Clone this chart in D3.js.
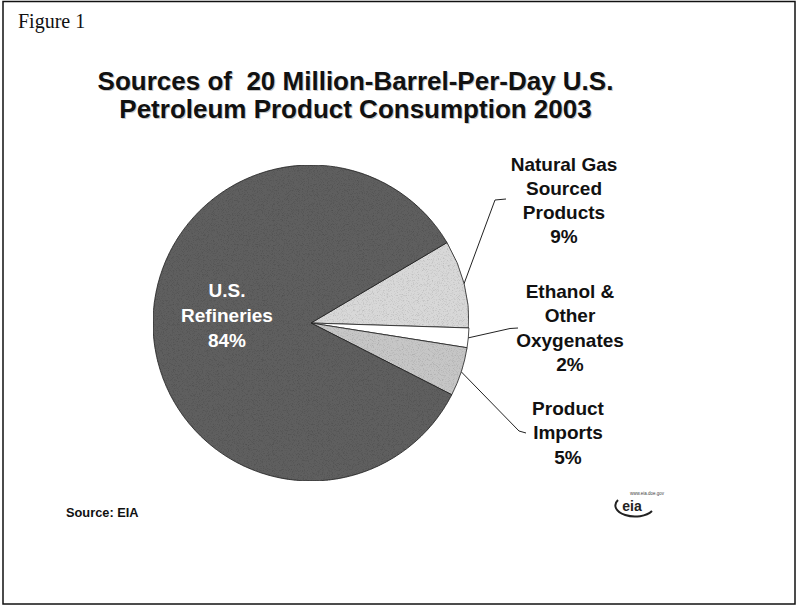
<!DOCTYPE html>
<html>
<head>
<meta charset="utf-8">
<script src="https://cdn.jsdelivr.net/npm/d3@7"></script>
<style>
  html, body { margin: 0; padding: 0; background: #fff; }
  svg { display: block; }
</style>
</head>
<body>
<svg id="chart" width="797" height="607"></svg>
<script>
const categories = ["Natural Gas Sourced Products", "Ethanol & Other Oxygenates", "Product Imports", "U.S. Refineries"];
const values = [9, 2, 5, 84];
const labelNames = [["Natural Gas", "Sourced", "Products"], ["Ethanol &", "Other", "Oxygenates"], ["Product", "Imports"], ["U.S.", "Refineries"]];
const titleLines = ["Sources of\u00a0 20 Million-Barrel-Per-Day U.S.", "Petroleum Product Consumption 2003"];

const svg = d3.select("#chart");
const font = "'Liberation Sans', Arial, Helvetica, sans-serif";

// border
svg.append("rect").attr("x", 3).attr("y", 1.5).attr("width", 792).attr("height", 602.5)
  .attr("fill", "none").attr("stroke", "#111").attr("stroke-width", 1.5);

svg.append("text").attr("x", 18).attr("y", 28)
  .attr("font-family", "'Liberation Serif', 'Times New Roman', serif").attr("font-size", 20)
  .attr("fill", "#111").text("Figure 1");

// title with soft shadow
const tg = svg.append("g").attr("font-family", font).attr("font-weight", "bold").attr("font-size", 26).attr("text-anchor", "middle");
titleLines.forEach((t, i) => {
  tg.append("text").attr("x", 356.5).attr("y", 91 + i * 28).attr("fill", "#c8c8c8").text(t);
  tg.append("text").attr("x", 355.5).attr("y", 90 + i * 28).attr("fill", "#111").text(t);
});

// pie
const cx = 311, cy = 323, R = 158;
const startDeg = 59.4;
const pie = d3.pie().sort(null).value(d => d)
  .startAngle(startDeg * Math.PI / 180).endAngle(startDeg * Math.PI / 180 + 2 * Math.PI);
const arcs = pie(values);
const arc = d3.arc().innerRadius(0).outerRadius(R);
const colors = d3.scaleOrdinal().domain(categories).range(["#d8d8d8", "#ffffff", "#c6c6c6", "#5e5e5e"]);

const defs = svg.append("defs");
const f = defs.append("filter").attr("id", "grain").attr("x", 0).attr("y", 0).attr("width", 1).attr("height", 1);
f.append("feTurbulence").attr("type", "fractalNoise").attr("baseFrequency", 1.2).attr("numOctaves", 1).attr("seed", 3).attr("result", "n");
f.append("feColorMatrix").attr("in", "n").attr("type", "matrix")
  .attr("values", "0 0 0 0 0  0 0 0 0 0  0 0 0 0 0  0 0 0 -0.9 0.45").attr("result", "a");
f.append("feComposite").attr("in", "a").attr("in2", "SourceGraphic").attr("operator", "in").attr("result", "dots");
f.append("feMerge").call(m => { m.append("feMergeNode").attr("in", "SourceGraphic"); m.append("feMergeNode").attr("in", "dots"); });

const pg = svg.append("g").attr("transform", `translate(${cx},${cy})`);
pg.selectAll("path.slice").data(arcs).join("path").attr("class", "slice")
  .attr("d", arc)
  .attr("fill", (d, i) => colors(categories[i]))
  .attr("filter", (d, i) => values[i] === 2 ? null : "url(#grain)")
  .attr("stroke", "#222").attr("stroke-width", 0.8);

// outside labels
const outside = [
  { i: 0, lx: 564, ly: 170.5, elbow: [495, 200], end: [506, 199] },
  { i: 1, lx: 570, ly: 298, elbow: [510, 328.5], end: [518, 328] },
  { i: 2, lx: 568, ly: 415, elbow: [519, 431], end: [526, 433] }
];
const lg = svg.append("g").attr("font-family", font).attr("font-weight", "bold").attr("font-size", 19).attr("text-anchor", "middle").attr("fill", "#111");
outside.forEach(o => {
  const a = arcs[o.i];
  const mid = (a.startAngle + a.endAngle) / 2;
  const sx = cx + Math.sin(mid) * R, sy = cy - Math.cos(mid) * R;
  svg.append("path")
    .attr("d", d3.line()([[sx, sy], o.elbow, o.end]))
    .attr("fill", "none").attr("stroke", "#222").attr("stroke-width", 1);
  const lines = labelNames[o.i].concat([values[o.i] + "%"]);
  lines.forEach((t, k) => {
    lg.append("text").attr("x", o.lx).attr("y", o.ly + k * 24.3).text(t);
  });
});

// inside label
const inLines = labelNames[3].concat([values[3] + "%"]);
const ig = svg.append("g").attr("font-family", font).attr("font-weight", "bold").attr("font-size", 19).attr("text-anchor", "middle").attr("fill", "#fff");
inLines.forEach((t, k) => {
  ig.append("text").attr("x", 227).attr("y", 297 + k * 25).text(t);
});

// source
svg.append("text").attr("x", 66).attr("y", 517).attr("font-family", font).attr("font-weight", "bold")
  .attr("font-size", 12.8).attr("fill", "#111").text("Source: EIA");

// eia logo
const logo = svg.append("g");
logo.append("path").attr("d", "M 618 500 A 16 9 0 1 0 652 511").attr("fill", "none").attr("stroke", "#222").attr("stroke-width", 2);
logo.append("text").attr("x", 632).attr("y", 511).attr("text-anchor", "middle").attr("font-family", font)
  .attr("font-weight", "bold").attr("font-size", 14).attr("fill", "#222").text("eia");
logo.append("text").attr("x", 630).attr("y", 495).attr("font-family", font)
  .attr("font-size", 4.5).attr("fill", "#444").text("www.eia.doe.gov");
</script>
</body>
</html>
